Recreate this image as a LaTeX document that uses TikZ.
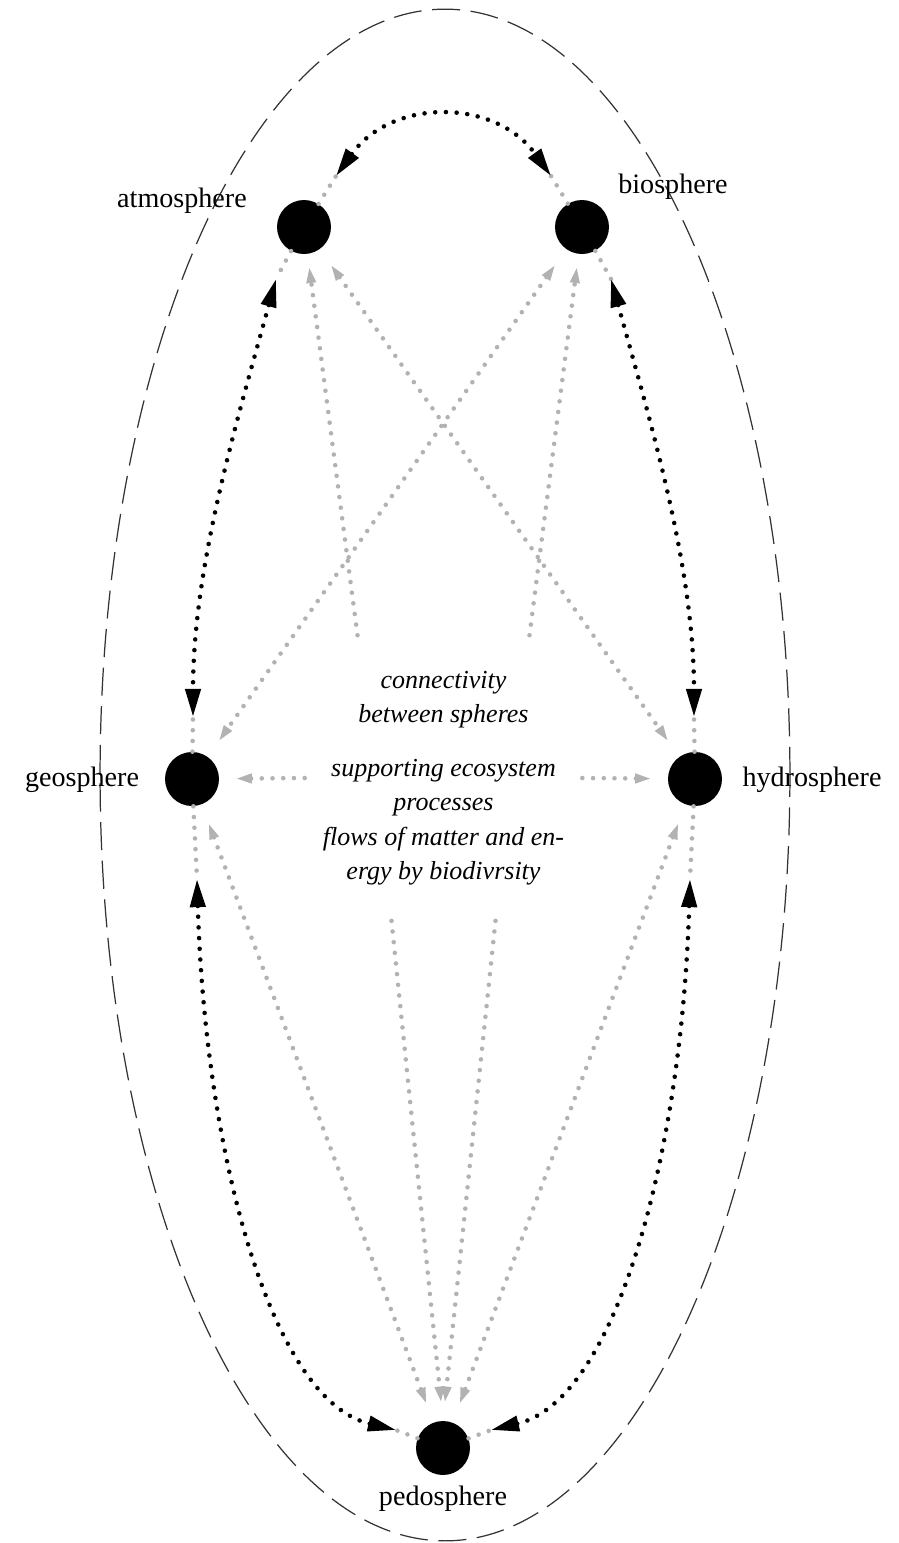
\documentclass[tikz,border=0pt]{standalone}
\usepackage{fontspec}
\setmainfont{Liberation Serif}
\usepackage{xcolor}
\definecolor{flowgrey}{RGB}{178,178,178}
\usepackage{tikz}
\usetikzlibrary{arrows.meta,calc,positioning}

\begin{document}
\begin{tikzpicture}[x=0.02cm,y=-0.02cm,
        sphere/.style={circle,fill=black,minimum size=1.08cm,inner sep=0pt},
        lbl/.style={font=\fontsize{16}{19}\selectfont,anchor=base,inner sep=0pt},
        hubbox/.style={minimum width=5.54cm,minimum height=5.7cm,inner sep=0pt,align=center,font=\itshape\fontsize{14.8}{19.6}\selectfont},
        stub/.style={draw=flowgrey,line width=2.6pt,line cap=round,dash pattern=on 0pt off 6.1pt},
        flow/.style={stub,shorten >=#1,>={Triangle[length=9.5pt,width=5pt]},->},
        flow/.default=7pt,
        link/.style={draw=black,line width=2.6pt,line cap=round,dash pattern=on 0pt off 6.1pt,>={Triangle[length=16pt,width=8.5pt]},<->},
        shell/.style={draw=black!80,line width=0.7pt,dash pattern=on 16pt off 6pt}]
        \useasboundingbox (0,0) rectangle (899,1543);                          % Rahmen
        \draw[shell] (445,775) ellipse [x radius=6.9cm, y radius=15.32cm];      % Huelle
        \node[sphere] (atm) at (304,227) {};                                    % Atmosphaere
        \node[sphere] (bio) at (582,227) {};                                    % Biosphaere
        \node[sphere] (geo) at (192,779) {};                                    % Geosphaere
        \node[sphere] (hyd) at (695,779) {};                                    % Hydrosphaere
        \node[sphere] (ped) at (443,1448) {};                                   % Pedosphaere
        \node[lbl] (atmlbl) at (182,207) {atmosphere};
        \node[lbl] (biolbl) at (673,193) {biosphere};
        \node[lbl] (geolbl) at (82,786) {geosphere};
        \node[lbl] (hydlbl) at (812,786) {hydrosphere};
        \node[lbl] (pedlbl) at (443,1505) {pedosphere};
        \node[hubbox] (hub) at (443.5,778) {connectivity\\between spheres\\[11pt]supporting ecosystem\\processes\\flows of matter and en-\\ergy by biodivrsity}; % Mitte
        % Pfeilspitzen der schwarzen Verbindungen
        \coordinate (ab1) at (336,176);
        \coordinate (ab2) at (551,176);
        \coordinate (ag1) at (276,279);
        \coordinate (ag2) at (193,717);
        \coordinate (bh1) at (611,279);
        \coordinate (bh2) at (694,717);
        \coordinate (gp1) at (197,879);
        \coordinate (gp2) at (396,1430);
        \coordinate (hp1) at (690,879);
        \coordinate (hp2) at (491,1430);
        % graue Fluesse
        \draw[flow] ($(hub.north)+(-86,0)$) -- (atm);
        \draw[flow] ($(hub.north)+(86,0)$) -- (bio);
        \draw[flow=10.5pt,<->,shorten <=10.5pt] (atm) -- (hyd);
        \draw[flow=10.5pt,<->,shorten <=10.5pt] (bio) -- (geo);
        \draw[flow=9pt] (hub.west) -- (geo);
        \draw[flow=9pt] (hub.east) -- (hyd);
        \draw[flow=10pt] ($(hub.south)+(-52,0)$) -- (ped.north);
        \draw[flow=10pt] ($(hub.south)+(52,0)$) -- (ped.north);
        \draw[flow=11pt,<->,shorten <=11pt] (geo) -- (ped);
        \draw[flow=11pt,<->,shorten <=11pt] (hyd) -- (ped);
        % graue Stuecke zwischen Kugel und Pfeilspitze
        \draw[stub] (atm) -- (ab1);
        \draw[stub] (bio) -- (ab2);
        \draw[stub] (atm) -- (ag1);
        \draw[stub] (geo) -- (ag2);
        \draw[stub] (bio) -- (bh1);
        \draw[stub] (hyd) -- (bh2);
        \draw[stub] (geo) -- (gp1);
        \draw[stub] (ped) -- (gp2);
        \draw[stub] (hyd) -- (hp1);
        \draw[stub] (ped) -- (hp2);
        % schwarze Wechselwirkungen
        \draw[link] (ab1) .. controls (392,98) and (495,98) .. (ab2);
        \draw[link] (ag1) .. controls (236,424) and (193,567) .. (ag2);
        \draw[link] (bh1) .. controls (651,424) and (694,567) .. (bh2);
        \draw[link] (gp1) .. controls (205,1150) and (270,1400) .. (gp2);
        \draw[link] (hp1) .. controls (682,1150) and (617,1400) .. (hp2);
\end{tikzpicture}
\end{document}
